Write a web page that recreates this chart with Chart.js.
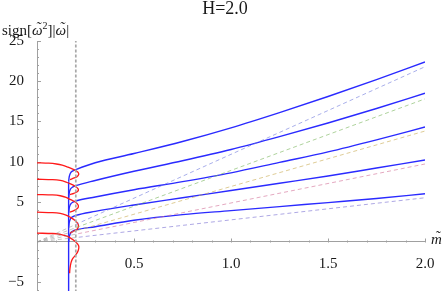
<!DOCTYPE html>
<html lang="en">
<head>
<meta charset="UTF-8">
<title>H=2.0</title>
<style>
  html, body { margin: 0; padding: 0; background: #fff; }
  #chart { display: block; }
</style>
<script src="https://cdn.jsdelivr.net/npm/chart.js"></script>
</head>
<body>
<canvas id="chart" width="443" height="291"></canvas>
<script>
// --- data ---
const blueM = [0.163, 0.166, 0.172, 0.185, 0.2, 0.3, 0.5, 0.75, 1.0, 1.25, 1.5, 1.75, 2.0];
const blue1 = [7.5, 8.1, 8.55, 8.85, 9.0, 9.85, 11.0, 12.5, 14.2, 16.1, 18.1, 20.2, 22.4];
const blue2 = [5.5, 6.1, 6.55, 6.85, 7.0, 7.65, 8.8, 10.1, 11.5, 13.1, 14.8, 16.6, 18.5];
const blue3 = [3.6, 4.2, 4.65, 4.95, 5.1, 5.6, 6.5, 7.5, 8.6, 9.9, 11.2, 12.7, 14.3];
const blue4 = [1.8, 2.4, 2.85, 3.15, 3.3, 3.8, 4.6, 5.5, 6.4, 7.3, 8.2, 9.2, 10.2];
const blue5 = [0.0, 0.6, 1.05, 1.35, 1.5, 1.9, 2.7, 3.4, 3.9, 4.4, 4.9, 5.4, 6.0];
const blueStemM = [0.163, 0.163];
const blueStemV = [-6.3, 7.5];

const redM1 = [0, 0.06, 0.1, 0.13, 0.16, 0.19, 0.21, 0.215, 0.205, 0.185, 0.17];
const redV1 = [9.85, 9.8, 9.7, 9.55, 9.3, 9.0, 8.7, 8.4, 8.1, 7.9, 7.75];
const redM2 = [0, 0.08, 0.12, 0.15, 0.17, 0.195, 0.212, 0.21, 0.19, 0.17];
const redV2 = [7.8, 7.75, 7.65, 7.45, 7.25, 6.95, 6.6, 6.3, 6.05, 5.9];
const redM3 = [0, 0.08, 0.12, 0.15, 0.17, 0.195, 0.212, 0.21, 0.19, 0.17];
const redV3 = [5.9, 5.85, 5.75, 5.55, 5.3, 5.0, 4.6, 4.2, 3.9, 3.7];
const redM4 = [0, 0.08, 0.12, 0.15, 0.17, 0.195, 0.212, 0.21, 0.19, 0.17];
const redV4 = [3.7, 3.65, 3.55, 3.35, 3.1, 2.7, 2.2, 1.7, 1.35, 1.1];
const redM5 = [0, 0.08, 0.12, 0.15, 0.175, 0.2, 0.215, 0.212, 0.2, 0.183, 0.175, 0.17, 0.168];
const redV5 = [1.1, 1.05, 0.95, 0.75, 0.45, 0.0, -0.5, -1.1, -1.6, -2.1, -2.6, -3.3, -3.9];

const guideM = [0, 2.0];
const guide1 = [0, 21.8];
const guide2 = [0, 17.8];
const guide3 = [0, 13.8];
const guide4 = [0, 9.7];
const guide5 = [0, 5.5];

const cutoffM = 0.2;
const xTicks = [0.5, 1.0, 1.5, 2.0];
const yTicks = [-5, 5, 10, 15, 20, 25];

const serif = '"Liberation Serif", "DejaVu Serif", serif';
const pts = (xs, ys) => xs.map((x, i) => ({ x: x, y: ys[i] }));

const blueLine = (ys) => ({ data: pts(blueM, ys), borderColor: '#2a2aff', borderWidth: 1.4, cubicInterpolationMode: 'monotone' });
const redLine = (xs, ys) => ({ data: pts(xs, ys), borderColor: '#ff1a1a', borderWidth: 1.3, tension: 0.35 });

// guides: faded grey left of the cutoff, coloured to the right of it
const guideLine = (ys, color) => ({
    data: pts(guideM, ys),
    borderWidth: 1,
    borderDash: [4, 3],
    borderColor: (c) => {
        const { chart } = c;
        if (!chart.chartArea) return color;
        const sx = chart.scales.x;
        const a = sx.getPixelForValue(0), b = sx.getPixelForValue(2);
        const cut = (sx.getPixelForValue(cutoffM) - a) / (b - a);
        const g = chart.ctx.createLinearGradient(a, 0, b, 0);
        g.addColorStop(0, 'rgba(150,150,150,0.55)');
        g.addColorStop(cut, 'rgba(150,150,150,0.55)');
        g.addColorStop(cut + 0.001, color);
        g.addColorStop(1, color);
        return g;
    }
});

const datasets = [
    guideLine(guide1, 'rgba(110,120,220,0.6)'),
    guideLine(guide2, 'rgba(120,180,90,0.6)'),
    guideLine(guide3, 'rgba(200,170,80,0.6)'),
    guideLine(guide4, 'rgba(210,110,150,0.6)'),
    guideLine(guide5, 'rgba(120,110,210,0.6)'),
    { data: pts([cutoffM, cutoffM], [-6.3, 25]), borderColor: '#a8a8a8', borderWidth: 1.7, borderDash: [3, 2] },
    redLine(redM1, redV1),
    redLine(redM2, redV2),
    redLine(redM3, redV3),
    redLine(redM4, redV4),
    redLine(redM5, redV5),
    { data: pts(blueStemM, blueStemV), borderColor: '#2a2aff', borderWidth: 1.4 },
    blueLine(blue1),
    blueLine(blue2),
    blueLine(blue3),
    blueLine(blue4),
    blueLine(blue5)
];

// draw a text run; a letter with a tilde gets the tilde placed over it
function drawRun(ctx, x, base, parts) {
    for (const p of parts) {
        ctx.font = p.font;
        ctx.textAlign = 'left';
        ctx.fillText(p.text, x, base + (p.dy || 0));
        const w = ctx.measureText(p.text).width;
        if (p.tilde) {
            ctx.textAlign = 'center';
            ctx.fillText('\u02DC', x + w / 2 + 1, base - 3);
        }
        x += w;
    }
}

// axis ticks (major + minor) and the free text labels
const decor = {
    id: 'decor',
    beforeDatasetsDraw(chart) {
        const { ctx, scales: { x, y } } = chart;
        const x0 = x.getPixelForValue(0);
        const y0 = Math.round(y.getPixelForValue(0)) + 0.5;
        ctx.save();
        ctx.strokeStyle = '#a0a0a0';
        ctx.lineWidth = 1;
        ctx.beginPath();
        for (let v = -6; v <= 25; v++) {
            if (v === 0) continue;
            const len = v % 5 === 0 ? 4 : 2;
            const py = Math.round(y.getPixelForValue(v)) + 0.5;
            ctx.moveTo(x0, py);
            ctx.lineTo(x0 + len, py);
        }
        for (let i = 1; i <= 20; i++) {
            const len = i % 5 === 0 ? 4 : 2;
            const px = Math.round(x.getPixelForValue(i / 10)) + 0.5;
            ctx.moveTo(px, y0);
            ctx.lineTo(px, y0 - len);
        }
        ctx.stroke();
        ctx.restore();
    },
    afterDraw(chart) {
        const { ctx, scales: { x, y } } = chart;
        ctx.save();
        ctx.fillStyle = '#1a1a1a';
        ctx.textBaseline = 'alphabetic';
        ctx.textAlign = 'center';
        ctx.font = '18px ' + serif;
        ctx.fillText('H=2.0', 225, 14);

        const f = '15px ' + serif;
        const fi = 'italic 15px ' + serif;
        drawRun(ctx, 2, 35, [
            { text: 'sign[', font: f },
            { text: '\u03C9', font: fi, tilde: true },
            { text: '2', font: '10px ' + serif, dy: -6 },
            { text: ']|', font: f },
            { text: '\u03C9', font: fi, tilde: true },
            { text: '|', font: f }
        ]);
        drawRun(ctx, x.right + 6, y.getPixelForValue(0) + 2, [
            { text: 'm', font: fi, tilde: true }
        ]);
        ctx.restore();
    }
};

new Chart(document.getElementById('chart').getContext('2d'), {
    type: 'line',
    data: { datasets: datasets },
    options: {
        responsive: false,
        animation: false,
        events: [],
        layout: { padding: { top: 41, right: 18, bottom: 0, left: 0 } },
        elements: { point: { radius: 0 } },
        plugins: {
            legend: { display: false },
            title: { display: false },
            tooltip: { enabled: false }
        },
        scales: {
            x: {
                type: 'linear',
                min: 0,
                max: 2,
                position: { y: 0 },
                grid: { display: false },
                border: { color: '#a0a0a0', width: 1 },
                afterBuildTicks: (s) => { s.ticks = xTicks.map(v => ({ value: v })); },
                ticks: {
                    padding: 5,
                    autoSkip: false,
                    maxRotation: 0,
                    color: '#1a1a1a',
                    font: { family: serif, size: 15 },
                    callback: (v) => Number(v).toFixed(1)
                }
            },
            y: {
                type: 'linear',
                min: -6.1,
                max: 25,
                position: 'left',
                grid: { display: false },
                border: { color: '#a0a0a0', width: 1 },
                afterBuildTicks: (s) => { s.ticks = yTicks.map(v => ({ value: v })); },
                afterFit: (s) => { s.width = 37; s.paddingTop = 0; s.paddingBottom = 0; },
                ticks: {
                    padding: 5,
                    autoSkip: false,
                    color: '#1a1a1a',
                    font: { family: serif, size: 15 },
                    callback: (v) => v < 0 ? '\u2212' + Math.abs(v) : String(v)
                }
            }
        }
    },
    plugins: [decor]
});
</script>
</body>
</html>
